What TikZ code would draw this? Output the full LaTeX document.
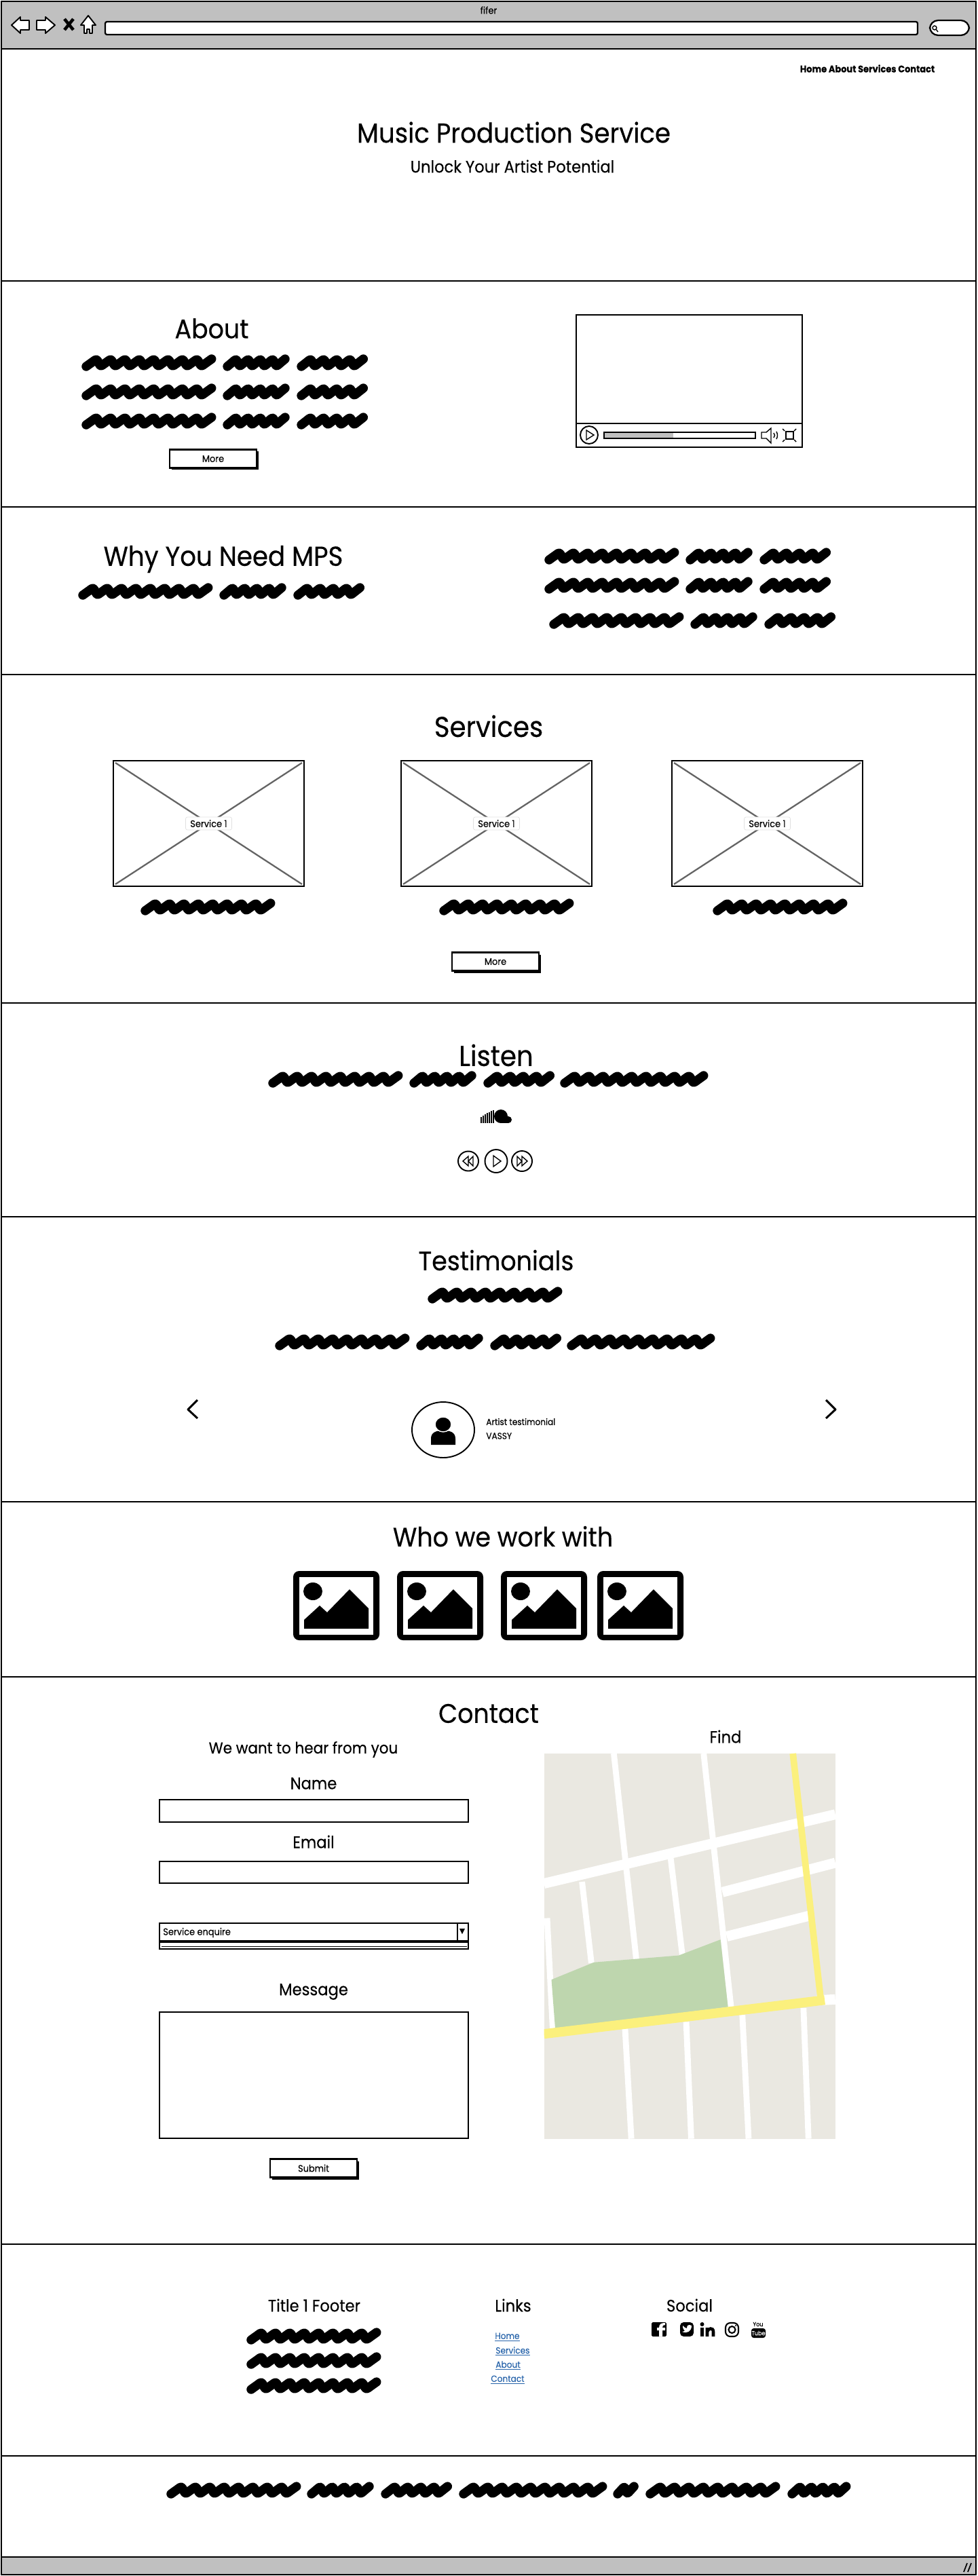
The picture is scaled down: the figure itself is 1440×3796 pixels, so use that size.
\documentclass[tikz,border=0pt]{standalone}
\usepackage{fontspec}
\setmainfont[FakeStretch=0.92,FakeBold=0.35]{Poppins}
\usetikzlibrary{shadows}
\definecolor{barcolor}{RGB}{192,192,192}
\definecolor{crossgrey}{RGB}{100,100,100}
\definecolor{mapbase}{RGB}{234,232,225}
\definecolor{mapyellow}{RGB}{251,240,125}
\definecolor{mapgreen}{RGB}{190,214,174}
\definecolor{linkblue}{RGB}{40,100,170}
% one redacted word: x, y, width, strokes
\newcommand{\scrib}[4]{
  \pgfmathsetmacro{\scribdx}{(#3-14)/#4}
  \draw[scribble] (#1+7,#2+5) \foreach \k in {1,...,#4} { -- ++({\scribdx*(1-.45*cos(180*\k))},{cos(180*\k)*11}) };
}
% the usual three word line
\newcommand{\scribrow}[2]{
  \scrib{#1}{#2}{194}{17}
  \scrib{#1+208}{#2}{95}{9}
  \scrib{#1+317}{#2}{101}{9}
}
\newcommand{\scribrowlong}[2]{
  \scribrow{#1}{#2}
  \scrib{#1+430}{#2}{214}{19}
}

\begin{document}
\begin{tikzpicture}[x=0.02cm,y=-0.02cm]

%
% Styles
%
\tikzstyle{edge} = [line width=1.3pt,draw=black]
\tikzstyle{scribble} = [line width=7.6pt,line cap=round,line join=round,rounded corners=1.5pt,draw=black]
\tikzstyle{herotext} = [font=\fontsize{23}{27}\selectfont,inner sep=0pt]
\tikzstyle{headtext} = [font=\fontsize{22.5}{27}\selectfont,inner sep=0pt]
\tikzstyle{headlarge} = [font=\fontsize{24}{27}\selectfont,inner sep=0pt]
\tikzstyle{subtext} = [font=\fontsize{14}{17}\selectfont,inner sep=0pt]
\tikzstyle{smalltext} = [font=\fontsize{8}{10}\selectfont,inner sep=0pt]
\tikzstyle{tinytext} = [font=\fontsize{7.5}{10}\selectfont,inner sep=0pt,anchor=west]
\tikzstyle{linktext} = [font=\fontsize{7.5}{9}\selectfont,text=linkblue,inner sep=0pt,anchor=west]
\tikzstyle{button} = [edge,fill=white,minimum width=2.56cm,minimum height=.54cm,font=\fontsize{8}{10}\selectfont,general shadow={fill=black,shadow xshift=1.7pt,shadow yshift=-1.7pt}]
\tikzstyle{field} = [edge,fill=white]
\tikzstyle{caption} = [rounded corners=1.5pt,draw=black!12,fill=white,minimum width=1.36cm,minimum height=.38cm,inner sep=0pt,font=\fontsize{8}{10}\selectfont]
\tikzstyle{icon} = [line width=1.1pt,draw=black,fill=white,line join=round]
\tikzstyle{thinicon} = [line width=.8pt,draw=black]
\tikzstyle{road} = [draw=white,line width=5pt]
\tikzstyle{bigroad} = [draw=white,line width=8.5pt]

\useasboundingbox (0,0) rectangle (1440,3796);

%
% Window
%
\fill[barcolor] (2,2) rectangle (1438,72);
\fill[barcolor] (2,3768) rectangle (1438,3794);
\draw[edge] (2,2) rectangle (1438,3794);
\draw[edge] (2,72) -- (1438,72);
\draw[edge] (2,3768) -- (1438,3768);
\node[smalltext] (wintitle) at (720,15) {fifer};
\draw[icon] (17,37) -- (30,25) -- (30,30) -- (43,30) -- (43,44) -- (30,44) -- (30,49) -- cycle;
\draw[icon] (81,37) -- (67,25) -- (67,30) -- (54,30) -- (54,44) -- (67,44) -- (67,49) -- cycle;
\draw[line width=2.6pt] (95,28) -- (108,44) (108,28) -- (95,44);
\draw[icon] (119,37) -- (130,23) -- (141,37) -- (136,37) -- (136,49) -- (132,49) -- (132,43) -- (128,43) -- (128,49) -- (124,49) -- (124,37) -- cycle;
\draw[field,rounded corners=1.5pt] (155,32) rectangle (1352,51);
\draw[field,rounded corners=7pt] (1370,30) rectangle (1428,52);
\draw[thinicon] (1377,41) circle (3) (1379,43) -- (1382,47);
\draw[line width=1pt] (1420,3790) -- (1425,3777) (1426,3790) -- (1431,3777);

%
% Hero
%
\node[smalltext,font=\fontsize{8}{10}\selectfont\bfseries] (navlinks) at (1278,101) {Home About Services Contact};
\node[herotext] (title) at (757,195) {Music Production Service};
\node[subtext] (subtitle) at (755,245) {Unlock Your Artist Potential};
\draw[edge] (2,414) -- (1438,414);

%
% About
%
\node[headtext] (about) at (312,484) {About};
\scribrow{120}{535}
\scribrow{120}{578}
\scribrow{120}{621}
\node[button] (aboutmore) at (314,676) {More};
\draw[field] (849,464) rectangle (1182,659);
\draw[edge] (849,624) -- (1182,624);
\draw[icon] (868,641) circle (13);
\draw[thinicon] (864,634) -- (875,641) -- (864,648) -- cycle;
\fill[barcolor] (890,637) rectangle (992,646);
\draw[edge] (890,637) rectangle (1113,646);
\draw[thinicon] (1122,637) -- (1129,637) -- (1136,631) -- (1136,653) -- (1129,646) -- (1122,646) -- cycle;
\draw[thinicon] (1140,638) .. controls (1142,640) and (1142,643) .. (1140,645);
\draw[thinicon] (1144,636) .. controls (1146,640) and (1146,643) .. (1144,647);
\draw[thinicon] (1158,636) rectangle (1169,647);
\draw[thinicon] (1153,632) -- (1156,635) (1173,632) -- (1170,635) (1153,651) -- (1156,648) (1173,651) -- (1170,648);
\draw[edge] (2,747) -- (1438,747);

%
% Why
%
\node[herotext] (why) at (329,824) {Why You Need MPS};
\scribrow{115}{872}
\scribrow{802}{820}
\scribrow{802}{863}
\scribrow{809}{915}
\draw[edge] (2,994) -- (1438,994);

%
% Services
%
\node[headlarge] (services) at (720,1070) {Services};
\foreach \sx/\name in {167/one,591/two,990/three} {
  \draw[edge] (\sx,1121) rectangle (\sx+281,1306);
  \draw[crossgrey,line width=1.3pt] (\sx+3,1124) -- (\sx+278,1303) (\sx+278,1124) -- (\sx+3,1303);
  \node[caption] (service\name) at (\sx+140.5,1213.5) {Service 1};
}
\scrib{207}{1337}{194}{17}
\scrib{647}{1337}{194}{17}
\scrib{1050}{1337}{194}{17}
\node[button] (servicemore) at (730,1417) {More};
\draw[edge] (2,1478) -- (1438,1478);

%
% Listen
%
\node[headlarge] (listen) at (731,1555) {Listen};
\scribrowlong{395}{1591}
\fill (738,1645) circle (10);
\fill (749,1650) circle (5);
\fill (738,1645) rectangle (749,1655);
\foreach \bx/\bt in {709/1646,712/1644,715/1642,718/1640,721/1639,724/1637,727/1636} {
  \draw[line width=1.3pt] (\bx,\bt) -- (\bx,1655);
}
\draw[icon] (690,1711) ellipse (15 and 14.5);
\draw[icon] (731,1711) ellipse (16.5 and 17);
\draw[icon] (769,1711) ellipse (15 and 15);
\draw[thinicon] (727,1703) -- (738,1711) -- (727,1719) -- cycle;
\draw[thinicon] (690,1704) -- (682,1711) -- (690,1718) -- cycle (697,1704) -- (690,1711) -- (697,1718) -- cycle;
\draw[thinicon] (762,1704) -- (769,1711) -- (762,1718) -- cycle (769,1704) -- (777,1711) -- (769,1718) -- cycle;
\draw[edge] (2,1793) -- (1438,1793);

%
% Testimonials
%
\node[headtext] (testimonials) at (731,1857) {Testimonials};
\scrib{630}{1909}{194}{17}
\scribrowlong{405}{1978}
\draw[line width=1.7pt,line join=round] (291,2063) -- (277,2077) -- (291,2090);
\draw[line width=1.7pt,line join=round] (1217,2063) -- (1231,2077) -- (1217,2090);
\draw[icon] (653,2107) ellipse (46 and 41);
\fill (635,2129) -- (635,2120) .. controls (635,2111) and (642,2108) .. (653,2108) .. controls (664,2108) and (671,2111) .. (671,2120) -- (671,2129) -- cycle;
\filldraw[draw=white,line width=.8pt] (653,2099) ellipse (12 and 11);
\node[tinytext] (artist) at (716,2095) {Artist testimonial};
\node[tinytext] (vassy) at (716,2116) {VASSY};
\draw[edge] (2,2213) -- (1438,2213);

%
% Who we work with
%
\node[headtext] (who) at (741,2264) {Who we work with};
\foreach \ix in {432,585,738,880} {
  \begin{scope}[shift={(\ix,2315)}]
    \fill[rounded corners=5pt] (0,0) rectangle (127,102);
    \fill[white] (9,9) rectangle (118,94);
    \fill (29,30) ellipse (14 and 13);
    \fill (16,85) -- (16,72) -- (39,51) -- (50,61) -- (83,27) -- (111,55) -- (111,85) -- cycle;
  \end{scope}
}
\draw[edge] (2,2471) -- (1438,2471);

%
% Contact
%
\node[headtext] (contact) at (720,2525) {Contact};
\node[subtext,font=\fontsize{13.3}{17}\selectfont] (hear) at (447,2578) {We want to hear from you};
\node[subtext] (find) at (1069,2559) {Find};
\node[subtext] (name) at (462,2628) {Name};
\draw[field] (235,2652) rectangle (690,2685);
\node[subtext] (email) at (462,2714) {Email};
\draw[field] (235,2743) rectangle (690,2775);
\draw[field] (235,2834) rectangle (690,2872);
\draw[edge] (674,2834) -- (674,2860);
\draw[line width=2.2pt] (235,2861) -- (690,2861);
\draw[line width=.5pt] (238,2868) -- (688,2868);
\fill (677,2842) -- (685,2842) -- (681,2850) -- cycle;
\node[smalltext,anchor=west] (enquire) at (240,2848) {Service enquire};
\node[subtext] (message) at (462,2935) {Message};
\draw[field] (235,2965) rectangle (690,3151);
\node[button] (submit) at (462,3195) {Submit};

% map, drawn in the scale of its own sheet
\begin{scope}[shift={(0,2480)},x=0.01838cm,y=-0.0102cm]
  \clip (872,204) rectangle (1339,1318);
  \fill[mapbase] (872,204) rectangle (1339,1318);
  \draw[road] (984,204) -- (1003,520) -- (1020,800);
  \draw[road] (1128,204) -- (1172,940);
  \draw[road] (1075,505) -- (1094,790);
  \draw[road] (933,575) -- (948,810);
  \draw[road] (877,680) -- (886,1000);
  \draw[road] (1002,1000) -- (1012,1318);
  \draw[road] (1100,980) -- (1108,1318);
  \draw[road] (1190,960) -- (1200,1318);
  \draw[road] (1288,940) -- (1296,1318);
  \draw[bigroad] (872,580) -- (1339,380);
  \draw[bigroad] (1158,605) -- (1339,520);
  \draw[bigroad] (1165,733) -- (1300,672);
  \draw[bigroad] (1310,918) -- (1339,915);
  \fill[mapgreen] (884,858) -- (952,808) -- (1088,788) -- (1155,742) -- (1167,937) -- (890,1000) -- cycle;
  \draw[mapyellow,line width=5.5pt] (1271,204) -- (1316,920);
  \draw[mapyellow,line width=8pt] (872,1015) -- (1322,917);
\end{scope}
\draw[edge] (2,3307) -- (1438,3307);

%
% Footer
%
\node[subtext] (foottitle) at (463,3397) {Title 1 Footer};
\node[subtext] (footlinks) at (756,3397) {Links};
\node[subtext] (footsocial) at (1016,3397) {Social};
\scrib{363}{3443}{194}{17}
\scrib{363}{3479}{194}{17}
\scrib{363}{3516}{194}{17}
\node[linktext] (linkhome) at (729,3444) {\underline{Home}};
\node[linktext] (linkservices) at (730,3465) {\underline{Services}};
\node[linktext] (linkabout) at (730,3486) {\underline{About}};
\node[linktext] (linkcontact) at (723,3507) {\underline{Contact}};

% social icons
\fill[rounded corners=1pt] (960,3422) rectangle (982,3443);
\fill[white] (976,3443) -- (976,3434) -- (980,3434) -- (980,3430) -- (976,3430) .. controls (976,3427) and (977,3426) .. (980,3426) -- (980,3423) .. controls (975,3423) and (971,3424) .. (971,3430) -- (968,3430) -- (968,3434) -- (971,3434) -- (971,3443) -- cycle;
\fill[rounded corners=3pt] (1002,3422) rectangle (1022,3443);
\fill[white] (1005,3436) .. controls (1012,3439) and (1019,3436) .. (1019,3427) -- (1016,3426) .. controls (1012,3426) and (1012,3429) .. (1012,3431) .. controls (1010,3431) and (1008,3429) .. (1006,3427) .. controls (1006,3431) and (1007,3433) .. (1009,3435) -- cycle;
\fill (1032,3430) rectangle (1037,3443);
\fill (1034.5,3425) circle (3);
\draw[line width=2.6pt] (1042,3443) -- (1042,3430) (1042,3436) .. controls (1043,3431) and (1051,3429) .. (1051,3436) -- (1051,3443);
\draw[line width=1.2pt,rounded corners=4pt] (1069,3423) rectangle (1088,3443);
\draw[line width=1.2pt] (1078.5,3433) circle (5);
\fill (1084,3427) circle (1.2);
\node[font=\fontsize{5}{6}\selectfont,inner sep=0pt] (youtop) at (1117,3425) {You};
\fill[rounded corners=2pt] (1107,3431) rectangle (1128,3445);
\node[font=\fontsize{5}{6}\selectfont,text=white,inner sep=0pt] (youtube) at (1117.5,3438) {Tube};
\draw[edge] (2,3619) -- (1438,3619);

%
% Bottom line
%
\scrib{245}{3670}{194}{17}
\scrib{452}{3670}{95}{9}
\scrib{561}{3670}{101}{9}
\scrib{676}{3670}{214}{19}
\scrib{903}{3670}{35}{3}
\scrib{951}{3670}{194}{17}
\scrib{1160}{3670}{90}{9}

\end{tikzpicture}
\end{document}
